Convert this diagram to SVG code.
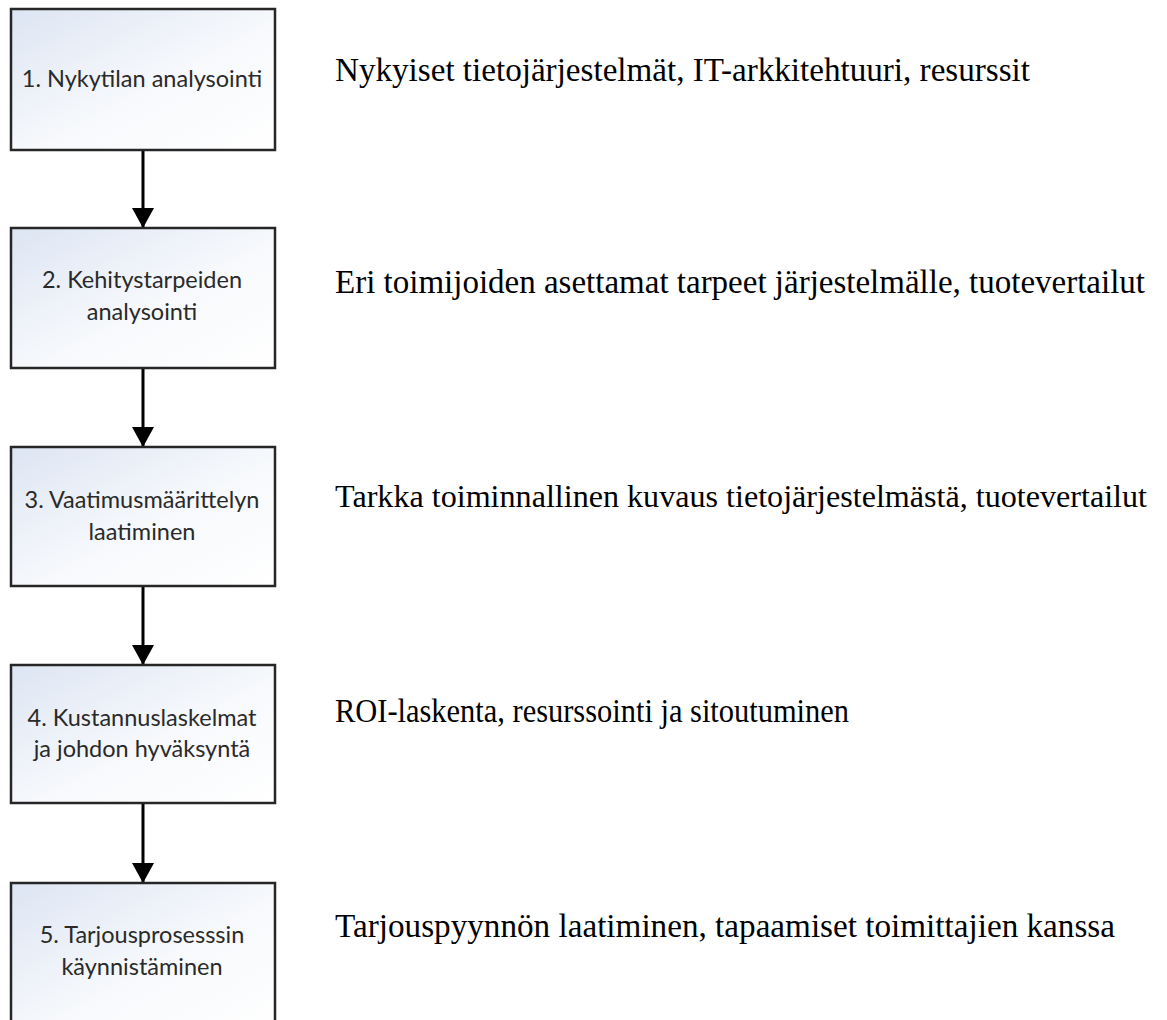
<svg xmlns="http://www.w3.org/2000/svg" width="1167" height="1020" viewBox="0 0 1167 1020">
<defs>
<linearGradient id="g" x1="0" y1="0" x2="1" y2="1">
<stop offset="0" stop-color="#dde5f3"/>
<stop offset="0.55" stop-color="#f7f9fc"/>
<stop offset="1" stop-color="#ffffff"/>
</linearGradient>
<marker id="ah" viewBox="0 0 20 22" refX="20" refY="11" markerWidth="20" markerHeight="22" markerUnits="userSpaceOnUse" orient="auto">
<path d="M0,0 L20,11 L0,22 Z" fill="#000"/>
</marker>
<style>
.box{fill:url(#g);stroke:#262626;stroke-width:2.5}
.bt{font-family:Lato,"Open Sans",sans-serif;font-size:23.5px;fill:#2a2a2a;text-anchor:middle}
.rt{font-family:"Liberation Serif","Times New Roman",serif;font-size:33px;fill:#000}
.c{stroke:#000;stroke-width:3;fill:none}
</style>
</defs>
<rect width="1167" height="1020" fill="#fff"/>
<g id="connectors">
<line class="c" x1="143" y1="150" x2="143" y2="228" marker-end="url(#ah)"/>
<line class="c" x1="143" y1="368" x2="143" y2="447" marker-end="url(#ah)"/>
<line class="c" x1="143" y1="586" x2="143" y2="665" marker-end="url(#ah)"/>
<line class="c" x1="143" y1="803" x2="143" y2="883" marker-end="url(#ah)"/>
</g>
<g id="node1">
<rect class="box" x="11" y="9" width="264" height="141"/>
<text class="bt" x="142" y="87">1. Nykytilan analysointi</text>
</g>
<g id="node2">
<rect class="box" x="11" y="228" width="264" height="140"/>
<text class="bt" x="142" y="288">2. Kehitystarpeiden</text>
<text class="bt" x="142" y="320">analysointi</text>
</g>
<g id="node3">
<rect class="box" x="11" y="447" width="264" height="139"/>
<text class="bt" x="142" y="508">3. Vaatimusmäärittelyn</text>
<text class="bt" x="142" y="540">laatiminen</text>
</g>
<g id="node4">
<rect class="box" x="11" y="665" width="264" height="138"/>
<text class="bt" x="142" y="726">4. Kustannuslaskelmat</text>
<text class="bt" x="142" y="757">ja johdon hyväksyntä</text>
</g>
<g id="node5">
<rect class="box" x="11" y="883" width="264" height="150"/>
<text class="bt" x="142" y="943">5. Tarjousprosesssin</text>
<text class="bt" x="142" y="975">käynnistäminen</text>
</g>
<g id="labels">
<text class="rt" x="335" y="81" textLength="695" lengthAdjust="spacingAndGlyphs">Nykyiset tietojärjestelmät, IT-arkkitehtuuri, resurssit</text>
<text class="rt" x="335" y="293" textLength="810" lengthAdjust="spacingAndGlyphs">Eri toimijoiden asettamat tarpeet järjestelmälle, tuotevertailut</text>
<text class="rt" x="335" y="507" style="font-size:32px" textLength="812" lengthAdjust="spacingAndGlyphs">Tarkka toiminnallinen kuvaus tietojärjestelmästä, tuotevertailut</text>
<text class="rt" x="335" y="722" textLength="514" lengthAdjust="spacingAndGlyphs">ROI-laskenta, resurssointi ja sitoutuminen</text>
<text class="rt" x="335" y="937" textLength="780" lengthAdjust="spacingAndGlyphs">Tarjouspyynnön laatiminen, tapaamiset toimittajien kanssa</text>
</g>
</svg>
